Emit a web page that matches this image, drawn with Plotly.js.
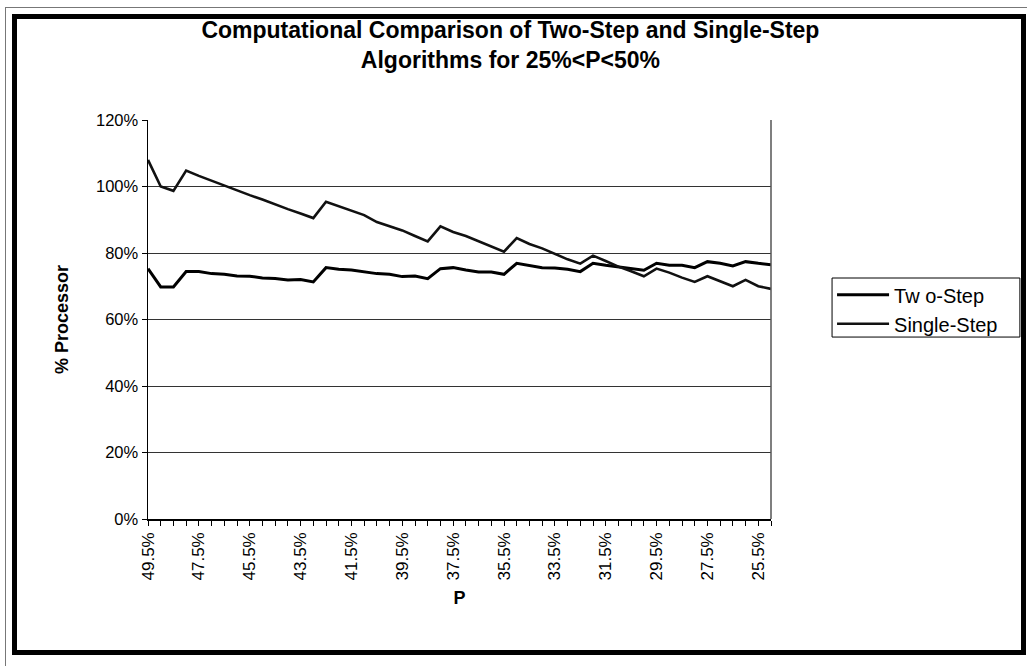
<!DOCTYPE html>
<html>
<head>
<meta charset="utf-8">
<script src="https://cdn.plot.ly/plotly-3.0.1.min.js"></script>
<style>
  html, body { margin: 0; padding: 0; background: #fff; }
  #wrap { position: relative; width: 1027px; height: 666px; overflow: hidden; }
  #chart { position: absolute; left: 0; top: 0; width: 1027px; height: 666px; }
  .frame { position: absolute; pointer-events: none; box-sizing: border-box; }
</style>
</head>
<body>
<div id="wrap">
  <div id="chart"></div>
  <div class="frame" style="left:5px; top:7px; width:1030px; height:670px; border-left:1px solid #777; border-top:1px solid #777;"></div>
  <div class="frame" style="left:12px; top:14px; width:1014px; height:641px; border:5px solid #000;"></div>
</div>
<script>
// Category labels (P), from 49.5% down to 25.0% in 0.5% steps
const categories = ["49.5%","49.0%","48.5%","48.0%","47.5%","47.0%","46.5%","46.0%","45.5%","45.0%",
  "44.5%","44.0%","43.5%","43.0%","42.5%","42.0%","41.5%","41.0%","40.5%","40.0%",
  "39.5%","39.0%","38.5%","38.0%","37.5%","37.0%","36.5%","36.0%","35.5%","35.0%",
  "34.5%","34.0%","33.5%","33.0%","32.5%","32.0%","31.5%","31.0%","30.5%","30.0%",
  "29.5%","29.0%","28.5%","28.0%","27.5%","27.0%","26.5%","26.0%","25.5%","25.0%"];

// Which categories carry a visible tick label
const labelledTicks = ["49.5%","47.5%","45.5%","43.5%","41.5%","39.5%","37.5%","35.5%","33.5%","31.5%","29.5%","27.5%","25.5%"];

// % Processor, Two-Step algorithm (fraction)
const twoStep = [0.753,0.698,0.698,0.744,0.744,0.738,0.736,0.731,0.730,0.725,
  0.723,0.719,0.720,0.713,0.756,0.751,0.749,0.744,0.738,0.736,
  0.729,0.731,0.723,0.753,0.756,0.749,0.743,0.743,0.736,0.769,
  0.763,0.756,0.755,0.751,0.744,0.769,0.763,0.758,0.753,0.748,
  0.769,0.763,0.763,0.756,0.774,0.769,0.761,0.774,0.769,0.765];

// % Processor, Single-Step algorithm (fraction)
const singleStep = [1.080,1.000,0.987,1.048,1.032,1.017,1.003,0.987,0.974,0.961,
  0.946,0.932,0.919,0.905,0.954,0.940,0.926,0.914,0.893,0.881,
  0.868,0.851,0.835,0.880,0.863,0.851,0.836,0.820,0.804,0.845,
  0.827,0.814,0.797,0.781,0.768,0.792,0.776,0.759,0.745,0.730,
  0.753,0.741,0.726,0.713,0.730,0.716,0.700,0.719,0.700,0.692];

const seriesNames = ["Tw o-Step", "Single-Step"];
const yTicks = [0, 0.2, 0.4, 0.6, 0.8, 1.0, 1.2];

const fontFamily = '"Liberation Sans", Arial, Helvetica, sans-serif';

const tickText = categories.map(c => labelledTicks.includes(c) ? c : "");

const traces = [
  {
    x: categories, y: twoStep, name: seriesNames[0], type: "scatter", mode: "lines",
    line: { color: "#000", width: 3 }
  },
  {
    x: categories, y: singleStep, name: seriesNames[1], type: "scatter", mode: "lines",
    line: { color: "#111", width: 2.6 }
  }
];

const layout = {
  width: 1027, height: 666,
  paper_bgcolor: "#fff", plot_bgcolor: "#fff",
  margin: { l: 148, r: 256, t: 120, b: 147, pad: 0 },
  font: { family: fontFamily, color: "#000", size: 16 },
  title: {
    text: "Computational Comparison of Two-Step and Single-Step<br>Algorithms for 25%&lt;P&lt;50%",
    font: { family: fontFamily, size: 23, weight: "bold", color: "#000" },
    xref: "container", x: 0.497, xanchor: "center",
    yref: "container", y: 0.943, yanchor: "middle"
  },
  xaxis: {
    type: "category",
    range: [0, categories.length - 1],
    tickmode: "array", tickvals: categories, ticktext: tickText,
    tickangle: -90,
    ticks: "outside", ticklen: 5, tickwidth: 1, tickcolor: "#000",
    tickfont: { family: fontFamily, size: 17, color: "#000" },
    showline: true, linecolor: "#000", linewidth: 1.5, mirror: false,
    showgrid: false, zeroline: false,
    title: { text: "P", font: { family: fontFamily, size: 18, weight: "bold" }, standoff: 12 },
    automargin: false
  },
  yaxis: {
    range: [0, 1.2],
    tickmode: "array", tickvals: yTicks, tickformat: ".0%",
    ticks: "outside", ticklen: 5, tickwidth: 1, tickcolor: "#000",
    tickfont: { family: fontFamily, size: 16.5, color: "#000" },
    showline: true, linecolor: "#000", linewidth: 1.5, mirror: false,
    showgrid: true, gridcolor: "#333", gridwidth: 1,
    zeroline: false,
    title: { text: "% Processor", font: { family: fontFamily, size: 18, weight: "bold" }, standoff: 22 },
    automargin: false
  },
  shapes: [
    { type: "line", xref: "paper", yref: "paper", x0: 1, x1: 1, y0: 0, y1: 1,
      line: { color: "#555", width: 1.5 } },
    // legend frame
    { type: "rect", xref: "paper", yref: "paper", x0: 1.098, x1: 1.3995, y0: 0.456, y1: 0.604,
      line: { color: "#000", width: 1 }, fillcolor: "rgba(0,0,0,0)" }
  ],
  showlegend: true,
  legend: {
    x: 1.098, xanchor: "left", y: 0.611, yanchor: "top",
    borderwidth: 0, bgcolor: "rgba(0,0,0,0)",
    font: { family: fontFamily, size: 20, color: "#000" },
    tracegroupgap: 0, itemwidth: 52
  }
};

Plotly.newPlot("chart", traces, layout, { staticPlot: true, displayModeBar: false });
</script>
</body>
</html>
